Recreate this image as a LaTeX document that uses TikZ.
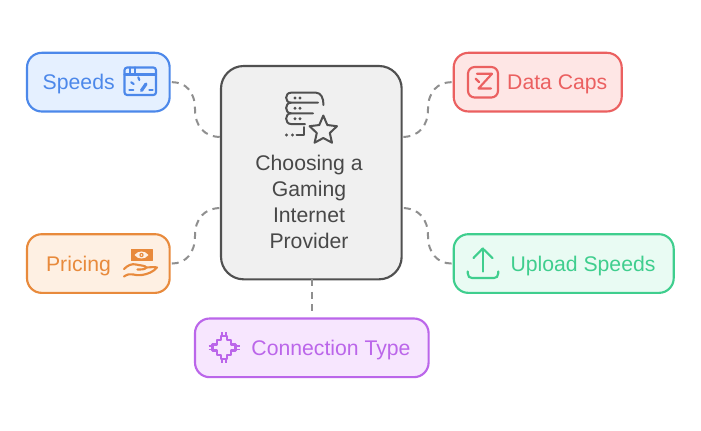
\documentclass[tikz,border=0pt]{standalone}
\usepackage{fontspec}
\setmainfont{Liberation Sans}
\definecolor{blueL}{HTML}{4C88EA}\definecolor{blueF}{HTML}{E5F0FF}
\definecolor{redL}{HTML}{EB6060}\definecolor{redF}{HTML}{FEE6E5}
\definecolor{orangeL}{HTML}{E88A3C}\definecolor{orangeF}{HTML}{FEF0E3}
\definecolor{greenL}{HTML}{3FCE8E}\definecolor{greenF}{HTML}{E9FBF3}
\definecolor{purpleL}{HTML}{BB66EA}\definecolor{purpleF}{HTML}{F7E6FE}
\definecolor{coreL}{HTML}{505050}\definecolor{coreF}{HTML}{F0F0F0}
\definecolor{linkC}{HTML}{8F8F8F}
\tikzset{
  x=0.75pt,y=-0.75pt,
  card/.style={draw=#1L,fill=#1F,line width=1.6pt,rounded corners=11pt,inner sep=0pt,outer sep=0pt,anchor=north west},
  label/.style={text=#1L,font=\fontsize{15.9}{18}\selectfont,inner sep=0pt,anchor=base},
  icon/.style={draw=#1L,line width=1.6pt,line cap=round,line join=round},
  link/.style={draw=linkC,line width=1.5pt,dash pattern=on 5.2pt off 4.2pt},
}
\begin{document}
\begin{tikzpicture}
\useasboundingbox (0,0) rectangle (701,430);
\fill[white] (0,0) rectangle (701,430);

% central card
\node[draw=coreL,fill=coreF,line width=1.6pt,rounded corners=17pt,inner sep=0pt,outer sep=0pt,anchor=north west,
      minimum width=135.5pt,minimum height=160pt] (core) at (221,66) {};
\node[text=coreL!90!black,font=\fontsize{15.9}{19.6}\selectfont,align=center,inner sep=0pt,anchor=center] (coretext) at (309,202)
  {Choosing a\\Gaming\\Internet\\Provider};

% outer cards
\node[card=blue,minimum width=107pt,minimum height=44pt] (speeds) at (27,52.8) {};
\node[card=red,minimum width=126pt,minimum height=44pt] (caps) at (453.7,52.8) {};
\node[card=orange,minimum width=107pt,minimum height=44pt] (pricing) at (27,234.2) {};
\node[card=green,minimum width=165pt,minimum height=44pt] (upload) at (453.7,234.2) {};
\node[card=purple,minimum width=175.2pt,minimum height=44pt] (conn) at (195,318.5) {};

% card captions
\node[label=blue] (tspeeds) at (78.7,89.5) {Speeds};
\node[label=red] (tcaps) at (557.3,89.5) {Data Caps};
\node[label=orange] (tpricing) at (78.5,271) {Pricing};
\node[label=green] (tupload) at (583,271) {Upload Speeds};
\node[label=purple] (tconn) at (331,355) {Connection Type};

% dashed connectors
\draw[link] ([xshift=1.6pt]speeds.east) .. controls +(14,0) and (195,92) .. (195,109)
   .. controls (195,126) and (204,137) .. (core.west |- 0,137);
\draw[link] ([xshift=-1.6pt]caps.west) .. controls +(-14,0) and (428,92) .. (428,109)
   .. controls (428,126) and (419,137) .. (core.east |- 0,137);
\draw[link] ([xshift=1.6pt]pricing.east) .. controls +(14,0) and (195,253) .. (195,236)
   .. controls (195,219) and (204,208) .. (core.west |- 0,208);
\draw[link] ([xshift=-1.6pt]upload.west) .. controls +(-14,0) and (428,253) .. (428,236)
   .. controls (428,219) and (419,208) .. (core.east |- 0,208);
\draw[link] (core.south -| 311.5,0) -- ([yshift=2.5pt]conn.north -| 311.5,0);

% gauge window icon
\begin{scope}[icon=blue]
  \draw[rounded corners=2pt] (124.5,67.5) rectangle (156,95);
  \draw (124.5,74.5) -- (156,74.5);
  \draw (130,67.5) -- (130,74.5) (135,67.5) -- (135,74.5);
  \draw[line width=2.4pt] (141.5,90.5) -- (146,84);
  \draw (129.3,90) -- (133.3,90) (149.3,90) -- (152.7,90);
  \draw (131.2,82.3) -- (133.7,84) (138.3,77.3) -- (139.3,80);
\end{scope}

% capped Z icon
\begin{scope}[icon=red]
  \draw[rounded corners=5pt] (468,67) rectangle (498,97.5);
  \draw (477,73.8) -- (492,73.8) -- (478.5,88.5) -- (491,88.5);
  \draw (475.7,78.7) -- (479,82);
\end{scope}

% banknote over a hand icon
\begin{scope}[icon=orange]
  \draw[fill=orangeL,line width=0.6pt] (131,249.5) rectangle (152,260.7);
  \draw[fill=orangeF,draw=none] (134.5,255) .. controls (138,250.3) and (145,250.3) .. (148.5,255)
        .. controls (145,259.7) and (138,259.7) .. (134.5,255) -- cycle;
  \fill[orangeL] (141.5,255) circle (2.2);
  \fill[orangeF] (141.5,255) circle (0.9);
  \draw (124,269) .. controls (128,265) and (132,263.5) .. (136,264.5)
        .. controls (140,265.5) and (146,265.5) .. (146,267.5)
        .. controls (146,269.5) and (141,269.5) .. (137.5,269.5);
  \draw (146,267.5) .. controls (150,267.5) and (154,266.5) .. (157,267.5)
        .. controls (153,272) and (148,274) .. (142,275)
        .. controls (135,276.5) and (131,271.5) .. (124,276.5);
\end{scope}

% upload arrow icon
\begin{scope}[icon=green]
  \draw (482.7,271.5) -- (482.7,248.5);
  \draw (473.5,258) -- (482.7,248.5) -- (492.5,258);
  \draw (467.8,271.5) -- (467.8,273.5) .. controls (467.8,276.5) and (469.5,278) .. (472,278)
        -- (494,278) .. controls (496.5,278) and (498.2,276.5) .. (498.2,273.5) -- (498.2,271.5);
\end{scope}

% stepped cross icon
\begin{scope}[icon=purple,line cap=butt]
  \draw (221,336) -- (227,336) -- (227,340.3) -- (231.3,340.3) -- (231.3,344.5) -- (235.5,344.5)
     -- (235.5,350.5) -- (231.3,350.5) -- (231.3,354.7) -- (227,354.7) -- (227,359) -- (221,359)
     -- (221,354.7) -- (216.7,354.7) -- (216.7,350.5) -- (212.5,350.5) -- (212.5,344.5) -- (216.7,344.5)
     -- (216.7,340.3) -- (221,340.3) -- cycle;
  \begin{scope}[line width=1.2pt]
    \draw (222.2,332) -- (222.2,336) (225.8,332) -- (225.8,336);
    \draw (222.2,359) -- (222.2,363) (225.8,359) -- (225.8,363);
    \draw (208.5,345.7) -- (212.5,345.7) (208.5,349.3) -- (212.5,349.3);
    \draw (235.5,345.7) -- (239.5,345.7) (235.5,349.3) -- (239.5,349.3);
  \end{scope}
\end{scope}

% server rack with star icon
\begin{scope}[icon=core,line width=1.5pt]
  \draw (291,102.7) .. controls (284.5,102.7) and (284.5,92.7) .. (291,92.7)
     -- (316,92.7) .. controls (321,92.7) and (323.5,98) .. (323.5,105);
  \draw (318,102.7) -- (291,102.7) .. controls (284.5,102.7) and (284.5,113.3) .. (291,113.3) -- (313,113.3);
  \draw (291,113.3) .. controls (284.5,113.3) and (284.5,124) .. (291,124) -- (305,124);
  \draw (296.5,135) -- (303.5,135) -- (303.5,127);
  \foreach \xa/\ya in {295/98,300/98,295/108.3,300/108.3,295/118.8,300/118.8,286.5/135,292.5/135}
    \fill[coreL] (\xa,\ya) circle (1.6);
  \draw (323.3,115.5) -- (327.3,125) -- (337,126.2) -- (329.8,133) -- (332,142.7)
     -- (323.3,138) -- (314.6,142.7) -- (316.8,133) -- (309.6,126.2) -- (319.3,125) -- cycle;
\end{scope}
\end{tikzpicture}
\end{document}
